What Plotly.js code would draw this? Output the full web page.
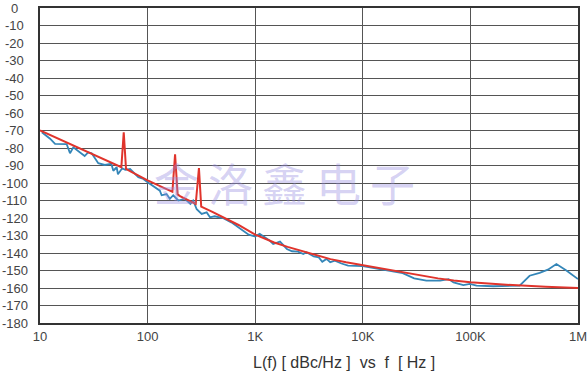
<!DOCTYPE html>
<html>
<head>
<meta charset="utf-8">
<script src="https://cdn.plot.ly/plotly-3.0.1.min.js"></script>
<style>html,body{margin:0;padding:0;background:#fff;}#chart{width:587px;height:375px;}</style>
</head>
<body>
<div id="chart"></div>
<script>
// Fitted phase-noise curve (red) with spurs
var redFreq = [10, 15, 20, 30, 40, 50, 57, 60, 63, 70, 100, 150, 170, 180, 190, 200, 280, 300, 315, 400, 500, 700, 1000, 1500, 2000, 3000, 5000, 7000, 10000, 20000, 30000, 50000, 70000, 100000, 200000, 300000, 500000, 1000000];
var redLf = [-70, -75, -78.5, -83.5, -87, -89.5, -91, -71, -92, -93.5, -98.5, -103.5, -105, -83.6, -106.5, -107.5, -112, -91.5, -113.5, -116.5, -119.5, -124, -129.5, -134, -136.5, -139.5, -143.5, -145.3, -147, -150.5, -152, -154.5, -155.7, -156.7, -158, -158.7, -159.3, -160];

// Measured phase noise (blue)
var blueFreq = [10.4, 12.4, 13.8, 17.7, 19, 20.4, 26, 28, 30.2, 34.8, 40, 46, 48, 51.6, 53, 58, 62, 68.7, 82, 90, 100, 130, 135, 150, 161, 173, 193, 222, 250, 265, 286, 297, 318, 354, 380, 420, 500, 600, 780, 870, 1000, 1100, 1370, 1470, 1700, 1970, 2200, 2500, 2800, 3000, 3500, 3900, 4200, 4600, 4980, 5500, 6330, 7300, 10000, 15000, 20000, 23500, 30000, 39000, 52400, 62700, 69700, 86000, 99000, 114000, 163000, 287000, 355000, 440000, 525000, 630000, 780000, 1000000];
var blueLf = [-71, -74.7, -77.6, -77.8, -83, -79.6, -84.6, -82.5, -83, -88.7, -89.7, -89, -93, -91, -95, -91.6, -92.5, -92, -96.7, -97.5, -99.6, -104.4, -107, -106.3, -109, -107, -110, -109, -112, -110, -115, -115.8, -117.7, -116.8, -119.6, -119, -120, -122.5, -127.5, -129.5, -130.6, -129, -133, -134.9, -133.5, -137.7, -139, -139.2, -140.6, -139.6, -142, -142.5, -145, -143.4, -145.3, -144.4, -146, -147.2, -147.5, -149.5, -150.8, -151.5, -154.5, -155.8, -155.8, -154.9, -156.8, -158.3, -157.7, -158.7, -159, -158.7, -153, -151.4, -149.5, -146.3, -150, -154.9];

var xTickVals = [10, 100, 1000, 10000, 100000, 1000000];
var xTickText = ['10', '100', '1K', '10K', '100K', '1M'];
var yTickVals = [0, -10, -20, -30, -40, -50, -60, -70, -80, -90, -100, -110, -120, -130, -140, -150, -160, -170, -180];
var xTitle = 'L(f) [ dBc/Hz ]  vs  f  [ Hz ]';
var watermark = '金\u2009洛\u2009鑫\u2009电\u2009子';

var traces = [
  {x: blueFreq, y: blueLf, type: 'scatter', mode: 'lines', line: {color: '#3486b8', width: 1.8}, hoverinfo: 'skip'},
  {x: redFreq, y: redLf, type: 'scatter', mode: 'lines', line: {color: '#e0342c', width: 2}, hoverinfo: 'skip'}
];

var annotations = yTickVals.map(function (v) {
  return {x: -0.047, xref: 'paper', y: v, yref: 'y', text: String(v), showarrow: false,
          xanchor: 'center', yanchor: 'middle', font: {family: 'Liberation Sans, Arial, sans-serif', size: 13, color: '#444'}};
});
annotations.push({x: 0.565, xref: 'paper', y: -0.125, yref: 'paper', text: xTitle, showarrow: false,
  xanchor: 'center', yanchor: 'middle', font: {family: 'Liberation Sans, Arial, sans-serif', size: 16, color: '#333'}});
annotations.push({x: 0.455, xref: 'paper', y: 0.445, yref: 'paper', text: watermark, showarrow: false,
  xanchor: 'center', yanchor: 'middle', font: {family: 'Noto Sans CJK SC, sans-serif', size: 45, color: 'rgba(150,140,225,0.4)'}});

var layout = {
  width: 587, height: 375,
  margin: {l: 40, r: 9, t: 8, b: 52},
  paper_bgcolor: '#fff', plot_bgcolor: '#fff',
  showlegend: false,
  xaxis: {type: 'log', range: [0.9999, 6.0001], tickvals: xTickVals, ticktext: xTickText, ticks: '',
          ticklabeloverflow: 'allow',
          showgrid: true, gridcolor: '#555', gridwidth: 1, zeroline: false,
          showline: true, linecolor: '#333', linewidth: 2, mirror: true,
          tickfont: {family: 'Liberation Sans, Arial, sans-serif', size: 13, color: '#444'}},
  yaxis: {range: [-180, 0], tickvals: yTickVals, showticklabels: false, ticks: '',
          showgrid: true, gridcolor: '#555', gridwidth: 1, zeroline: false,
          showline: true, linecolor: '#333', linewidth: 2, mirror: true},
  annotations: annotations
};

Plotly.newPlot('chart', traces, layout, {staticPlot: true, displayModeBar: false});
</script>
</body>
</html>
